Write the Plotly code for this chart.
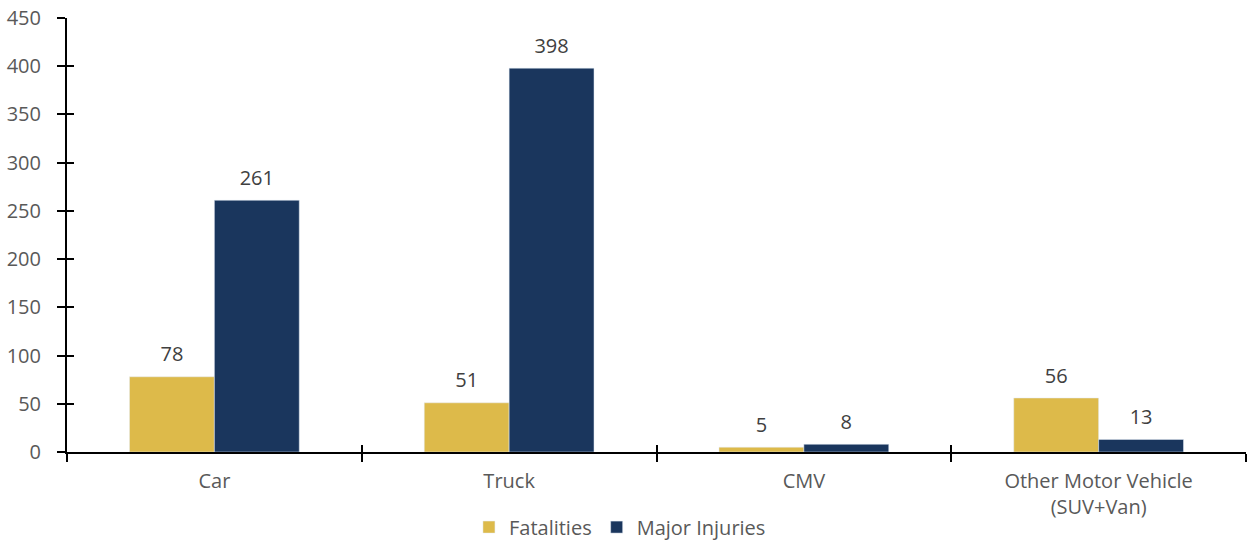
import plotly.graph_objects as go

categories = ["Car", "Truck", "CMV", "Other Motor Vehicle<br>(SUV+Van)"]
fatalities = [78, 51, 5, 56]
major_injuries = [261, 398, 8, 13]
y_ticks = [0, 50, 100, 150, 200, 250, 300, 350, 400, 450]

GOLD = "#DDBA4A"
NAVY = "#1A365D"
FONT = "Open Sans"


def label(v):
    return f"<span style='font-size:20px'>{v}</span><br> "


fig = go.Figure()
fig.add_trace(go.Bar(
    name="Fatalities", x=categories, y=fatalities, marker_color=GOLD,
    text=[label(v) for v in fatalities], textposition="outside", cliponaxis=False,
    textfont=dict(family=FONT, size=8, color="#404040"),
))
fig.add_trace(go.Bar(
    name="Major Injuries", x=categories, y=major_injuries, marker_color=NAVY,
    text=[label(v) for v in major_injuries], textposition="outside", cliponaxis=False,
    textfont=dict(family=FONT, size=8, color="#404040"),
))
# invisible trace for overlay axes that draw the inner half of crossing ticks
fig.add_trace(go.Scatter(x=[None], y=[None], xaxis="x2", yaxis="y2",
                         showlegend=False, hoverinfo="skip"))

fig.update_layout(
    width=1247, height=540,
    margin=dict(l=67, r=1, t=18, b=88, autoexpand=False),
    plot_bgcolor="white", paper_bgcolor="white",
    barmode="group", bargap=0.424, bargroupgap=0,
    font=dict(family=FONT, size=20, color="#595959"),
    showlegend=True,
    legend=dict(orientation="h", x=0.469, xanchor="center", y=-0.173, yanchor="middle",
                font=dict(family=FONT, size=20, color="#595959"), itemwidth=30),
    xaxis=dict(type="category", tickson="boundaries", ticks="outside", ticklen=8,
               tickwidth=2, tickcolor="black", showline=True, linecolor="black",
               linewidth=2, showgrid=False, automargin=False, ticklabelstandoff=10,
               ticklabeloverflow="allow",
               tickfont=dict(family=FONT, size=20, color="#595959")),
    yaxis=dict(range=[0, 450], tickvals=y_ticks, ticks="outside", ticklen=8,
               tickwidth=2, tickcolor="black", showline=True, linecolor="black",
               linewidth=2, showgrid=False, zeroline=False, automargin=False,
               ticklabelstandoff=12, ticklabeloverflow="allow",
               tickfont=dict(family=FONT, size=20, color="#595959")),
    xaxis2=dict(overlaying="x", anchor="y2", range=[-0.5, 3.5],
                tickvals=[-0.5, 0.5, 1.5, 2.5, 3.5], ticks="inside", ticklen=7,
                tickwidth=2, tickcolor="black", showticklabels=False,
                showgrid=False, zeroline=False, showline=False, automargin=False),
    yaxis2=dict(overlaying="y", anchor="x2", range=[0, 450], tickvals=y_ticks,
                ticks="inside", ticklen=7, tickwidth=2, tickcolor="black",
                showticklabels=False, showgrid=False, zeroline=False, showline=False,
                automargin=False),
)

fig.write_html("out.html",
               config={"displayModeBar": False},
               post_script="document.body.style.margin='0';document.body.style.overflow='hidden';")
